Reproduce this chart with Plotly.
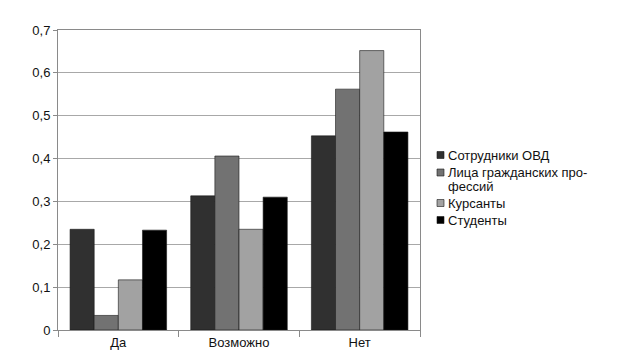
import plotly.graph_objects as go

categories = ["Да", "Возможно", "Нет"]
series_names = ["Сотрудники ОВД", "Лица гражданских про-\nфессий", "Курсанты", "Студенты"]
sotrudniki = [0.235, 0.313, 0.453]
grazhdanskie = [0.034, 0.406, 0.562]
kursanty = [0.117, 0.235, 0.652]
studenty = [0.233, 0.310, 0.462]
y_tickvals = [0, 0.1, 0.2, 0.3, 0.4, 0.5, 0.6, 0.7]
y_ticktext = ["0", "0,1", "0,2", "0,3", "0,4", "0,5", "0,6", "0,7"]

colors = ["#303030", "#727272", "#a2a2a2", "#000000"]
values = [sotrudniki, grazhdanskie, kursanty, studenty]

# page geometry (browser adds 8px body margin)
PX0, PX1, PY0, PY1 = 58, 420, 30, 330
W, H = 618, 360
ml, mt = PX0 - 8, PY0 - 8
mr = W - ml - (PX1 - PX0)
mb = H - mt - (PY1 - PY0)

def px(x):
    return (x - PX0) / (PX1 - PX0)

def py(y):
    return (PY1 - y) / (PY1 - PY0)

fig = go.Figure()
for name, vals, col in zip(series_names, values, colors):
    fig.add_trace(go.Bar(x=categories, y=vals, name=name.replace("\n", " "),
                         marker=dict(color=col, line=dict(color="#1a1a1a", width=0.6))))

font = "Liberation Sans, Arial, sans-serif"

# manual legend
legend_rows = [155, 172.5, 203, 220]
line_h = 14
shapes, annotations = [], []
for name, col, yc in zip(series_names, colors, legend_rows):
    shapes.append(dict(type="rect", xref="paper", yref="paper",
                       x0=px(437), x1=px(444), y0=py(yc + 3.5), y1=py(yc - 3.5),
                       fillcolor=col, line=dict(color="#1a1a1a", width=0.6)))
    for i, line in enumerate(name.split("\n")):
        annotations.append(dict(xref="paper", yref="paper", x=px(447), y=py(yc + i * line_h),
                                xanchor="left", yanchor="middle", text=line, showarrow=False,
                                font=dict(family=font, size=13, color="#111111"), borderpad=0))

fig.update_layout(
    width=W, height=H,
    margin=dict(l=ml, r=mr, t=mt, b=mb),
    paper_bgcolor="white", plot_bgcolor="white",
    barmode="group", bargap=0.2, bargroupgap=0,
    font=dict(family=font, size=13, color="#111111"),
    showlegend=False,
    shapes=shapes, annotations=annotations,
    xaxis=dict(showline=True, linecolor="#8a8a8a", linewidth=1, mirror=True,
               ticks="outside", tickson="boundaries", ticklen=6, tickcolor="#8a8a8a",
               showgrid=False, tickfont=dict(size=13)),
    yaxis=dict(range=[0, 0.7], tickvals=y_tickvals, ticktext=y_ticktext,
               showline=True, linecolor="#8a8a8a", linewidth=1, mirror=True,
               ticks="outside", ticklen=4, tickcolor="#8a8a8a",
               showgrid=True, gridcolor="#a8a8a8", gridwidth=1,
               zeroline=False, tickfont=dict(size=13)),
)
fig.write_html("out.html")
